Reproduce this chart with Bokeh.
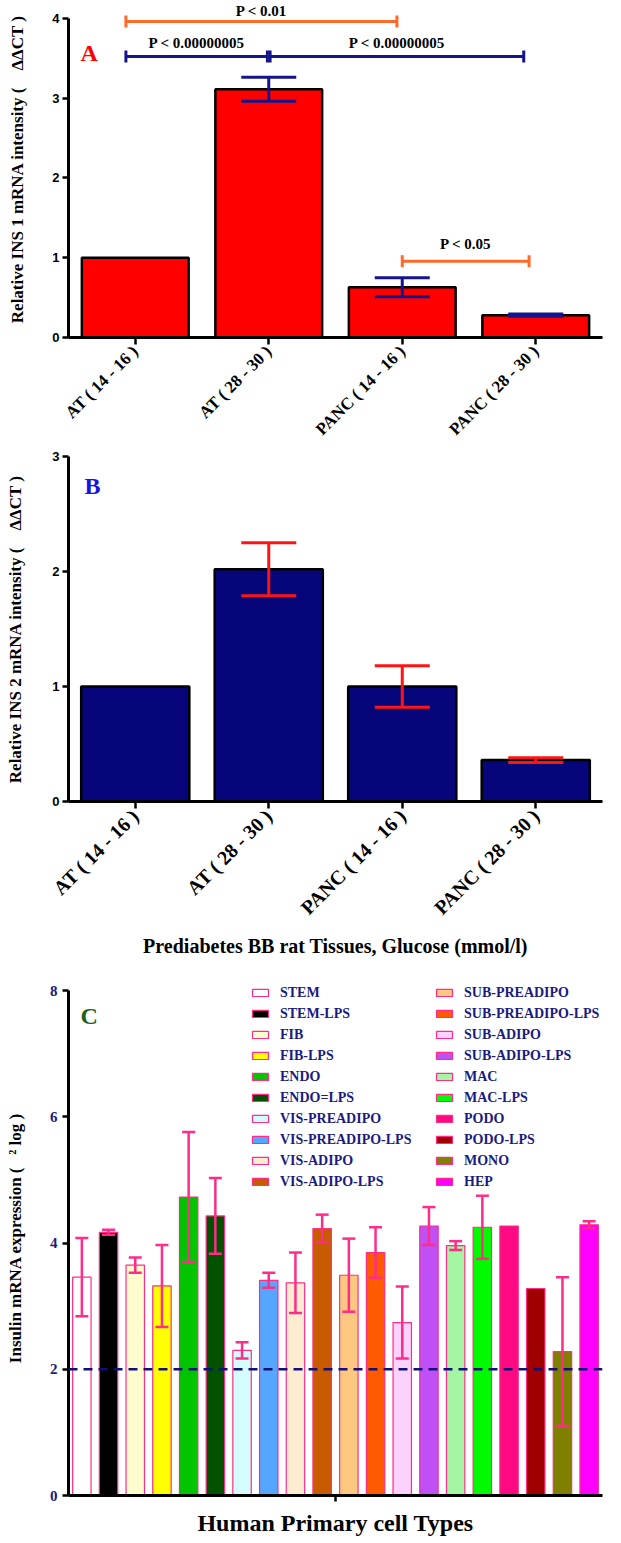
import numpy as np
from bokeh.plotting import figure
from bokeh.models import (ColumnDataSource, Range1d, FixedTicker, Whisker, TeeHead,
                          LabelSet, Label, Span, Legend, LegendItem)
from bokeh.layouts import column
from bokeh.embed import file_html
from bokeh.resources import INLINE

# ---------------- data ----------------
tissues = ["AT ( 14 - 16 )", "AT ( 28 - 30 )", "PANC ( 14 - 16 )", "PANC ( 28 - 30 )"]
ins1_mean = [1.0, 3.11, 0.63, 0.28]
ins1_err = [0.0, 0.15, 0.12, 0.015]
ins2_mean = [1.0, 2.02, 1.0, 0.36]
ins2_err = [0.0, 0.23, 0.18, 0.02]

# significance brackets (panel A), in category index units
br_start = [-0.07, -0.07, 1.01, 2.0]
br_end = [1.96, 0.99, 2.91, 2.95]
br_level = [3.96, 3.52, 3.52, 0.955]
br_label_y = [4.025, 3.625, 3.625, 1.106]
br_text = ["P < 0.01", "P < 0.00000005", "P < 0.00000005", "P < 0.05"]
br_color = ["#FF6A2A", "#14148C", "#14148C", "#FF6A2A"]

cells = ["STEM", "STEM-LPS", "FIB", "FIB-LPS", "ENDO", "ENDO=LPS", "VIS-PREADIPO",
         "VIS-PREADIPO-LPS", "VIS-ADIPO", "VIS-ADIPO-LPS", "SUB-PREADIPO",
         "SUB-PREADIPO-LPS", "SUB-ADIPO", "SUB-ADIPO-LPS", "MAC", "MAC-LPS", "PODO",
         "PODO-LPS", "MONO", "HEP"]
cell_mean = [3.46, 4.17, 3.65, 3.32, 4.73, 4.43, 2.30, 3.41, 3.37, 4.23, 3.49, 3.85,
             2.74, 4.27, 3.96, 4.25, 4.27, 3.28, 2.28, 4.29]
cell_err = [0.62, 0.04, 0.12, 0.65, 1.03, 0.60, 0.13, 0.12, 0.48, 0.22, 0.58, 0.40,
            0.57, 0.30, 0.07, 0.50, 0.0, 0.0, 1.18, 0.055]
cell_fill = ["#FFFFFF", "#000000", "#FFFCD0", "#FFFF00", "#00C400", "#005200", "#D4FCFC",
             "#55A6FF", "#FFEBD0", "#C85A00", "#FFC880", "#FF5A00", "#FCD2FC", "#BE50F5",
             "#A5F5A5", "#00FA00", "#FF0A82", "#A00000", "#808000", "#FF00FF"]
threshold = 2

SERIF = "Liberation Serif"
SANS = "Liberation Sans"
PINK = "#FF2D87"
NAVY = "#14148C"


def base_fig(w, h, xr, yr, left, right, top, bottom):
    p = figure(width=w, height=h, x_range=xr, y_range=yr, output_backend="svg",
               toolbar_location=None, min_border_left=left, min_border_right=right,
               min_border_top=top, min_border_bottom=bottom)
    p.outline_line_color = None
    p.xgrid.visible = False
    p.ygrid.visible = False
    p.background_fill_color = "white"
    p.border_fill_color = "white"
    return p


def style_axes(p, xlabels, xsize, ylab_size, ystand):
    xa, ya = p.xaxis[0], p.yaxis[0]
    for ax in (xa, ya):
        ax.axis_line_width = 3
        ax.axis_line_color = "black"
        ax.major_tick_line_width = 2.5
        ax.major_tick_line_color = "black"
        ax.major_tick_in = 0
        ax.minor_tick_line_color = None
        ax.axis_label_text_font = SERIF
        ax.axis_label_text_font_style = "bold"
        ax.axis_label_text_color = "black"
    idx = list(range(len(xlabels)))
    xa.ticker = FixedTicker(ticks=idx)
    xa.major_label_overrides = {i: t for i, t in zip(idx, xlabels)}
    xa.major_label_orientation = np.pi / 4
    xa.major_label_text_font = SERIF
    xa.major_label_text_font_style = "bold"
    xa.major_label_text_font_size = f"{xsize}px"
    xa.major_label_text_color = "black"
    xa.major_tick_out = 7
    xa.major_label_standoff = 4
    ya.major_tick_out = 6
    ya.major_label_text_font = SANS
    ya.major_label_text_font_style = "bold"
    ya.major_label_text_font_size = "13px"
    ya.major_label_text_color = "black"
    ya.major_label_standoff = 3
    ya.axis_label_text_font_size = f"{ylab_size}px"
    ya.axis_label_standoff = ystand


def whiskers(p, xs, means, errs, color, head, lw):
    keep = [i for i, e in enumerate(errs) if e > 0]
    src = ColumnDataSource(dict(
        x=[xs[i] for i in keep],
        upper=[means[i] + errs[i] for i in keep],
        lower=[means[i] - errs[i] for i in keep]))
    w = Whisker(source=src, base="x", upper="upper", lower="lower", level="annotation",
                line_color=color, line_width=lw,
                upper_head=TeeHead(size=head, line_color=color, line_width=lw),
                lower_head=TeeHead(size=head, line_color=color, line_width=lw))
    p.add_layout(w)


xs = list(range(len(tissues)))
NBSP = "\u00a0"

# ---------------- panel A ----------------
pA = base_fig(621, 448, Range1d(-0.5, 3.5), Range1d(0, 4.223), 66, 10, 0, 107)
pA.vbar(x=xs, top=ins1_mean, width=0.8, fill_color="#FF0000", line_color="black",
        line_width=2.5)
whiskers(pA, xs, ins1_mean, ins1_err, NAVY, 55, 3)
style_axes(pA, tissues, 17, 17, 22)
pA.yaxis[0].ticker = FixedTicker(ticks=[0, 1, 2, 3, 4])
pA.yaxis[0].bounds = (0, 4)
pA.yaxis[0].axis_label = "Relative INS 1 mRNA intensity (" + NBSP * 4 + "ΔΔCT )"

bsrc = ColumnDataSource(dict(
    x0=br_start, x1=br_end, y=br_level, text=br_text, color=br_color,
    xm=[(a + b) / 2 for a, b in zip(br_start, br_end)],
    ylo=[v - 0.075 for v in br_level], yhi=[v + 0.075 for v in br_level],
    yt=br_label_y))
pA.segment(x0="x0", y0="y", x1="x1", y1="y", line_color="color", line_width=3, source=bsrc)
pA.segment(x0="x0", y0="ylo", x1="x0", y1="yhi", line_color="color", line_width=3, source=bsrc)
pA.segment(x0="x1", y0="ylo", x1="x1", y1="yhi", line_color="color", line_width=3, source=bsrc)
pA.add_layout(LabelSet(x="xm", y="yt", text="text", source=bsrc, text_align="center",
                       text_baseline="alphabetic", text_font=SERIF, text_font_style="bold",
                       text_font_size="15px", text_color="black"))
pA.add_layout(Label(x=-0.345, y=3.57, text="A", text_align="center", text_baseline="middle",
                    text_font=SERIF, text_font_style="bold", text_font_size="24px",
                    text_color="#FF0000"))

# ---------------- panel B ----------------
pB = base_fig(621, 512, Range1d(-0.5, 3.5), Range1d(0, 3), 68, 19, 8, 150)
pB.vbar(x=xs, top=ins2_mean, width=0.81, fill_color="#06067A", line_color="black",
        line_width=2.5)
whiskers(pB, xs, ins2_mean, ins2_err, "#FF1414", 55, 3)
style_axes(pB, tissues, 20, 17, 24)
pB.yaxis[0].ticker = FixedTicker(ticks=[0, 1, 2, 3])
pB.yaxis[0].bounds = (0, 3)
pB.yaxis[0].axis_label = "Relative INS 2 mRNA intensity (" + NBSP * 4 + "ΔΔCT )"
pB.xaxis[0].axis_label = "Prediabetes BB rat Tissues, Glucose (mmol/l)"
pB.xaxis[0].axis_label_text_font_size = "20px"
pB.xaxis[0].axis_label_standoff = 6
pB.add_layout(Label(x=-0.32, y=2.74, text="B", text_align="center", text_baseline="middle",
                    text_font=SERIF, text_font_style="bold", text_font_size="24px",
                    text_color="#1414E6"))

# ---------------- panel C ----------------
cx = list(range(len(cells)))
pC = base_fig(621, 583, Range1d(-0.5, len(cells) - 0.5), Range1d(0, 8.16), 68, 6, 20, 48)
srcC = ColumnDataSource(dict(x=cx, mean=cell_mean, fill=cell_fill, name=cells))
rC = pC.vbar(x="x", top="mean", width=0.69, fill_color="fill", line_color=PINK,
             line_width=1.2, source=srcC)
whiskers(pC, cx, cell_mean, cell_err, PINK, 13, 2.5)
pC.add_layout(Span(location=threshold, dimension="width", line_color="#10107A",
                   line_width=2.5, line_dash="9 6"))

xa, ya = pC.xaxis[0], pC.yaxis[0]
for ax in (xa, ya):
    ax.axis_line_width = 3
    ax.major_tick_line_width = 2.5
    ax.major_tick_in = 0
    ax.major_tick_out = 6
    ax.minor_tick_line_color = None
    ax.axis_label_text_font = SERIF
    ax.axis_label_text_font_style = "bold"
    ax.axis_label_text_color = "black"
mid = (len(cells) - 1) / 2
xa.ticker = FixedTicker(ticks=[mid])
xa.major_label_overrides = {mid: ""}
xa.major_label_standoff = 0
xa.axis_label = "Human Primary cell Types"
xa.axis_label_text_font_size = "24px"
xa.axis_label_standoff = 8
ya.ticker = FixedTicker(ticks=[0, 2, 4, 6, 8])
ya.bounds = (0, 8)
ya.major_label_text_font = SERIF
ya.major_label_text_font_style = "bold"
ya.major_label_text_font_size = "15px"
ya.major_label_text_color = "#1A1A80"
ya.major_label_standoff = 5
ya.axis_label = "Insulin mRNA expression (" + NBSP * 3 + "\u00b2" + NBSP + "log )"
ya.axis_label_text_font_size = "17px"
ya.axis_label_standoff = 22

pC.add_layout(Label(x=0.27, y=7.6, text="C", text_align="center", text_baseline="middle",
                    text_font=SERIF, text_font_style="bold", text_font_size="24px",
                    text_color="#1E5E1E"))

half = len(cells) // 2
for start, vx in ((0, 182), (half, 366)):
    items = [LegendItem(label=cells[i], renderers=[rC], index=i)
             for i in range(start, start + half)]
    leg = Legend(items=items, location=(vx, 305), padding=0, margin=0, spacing=4,
                 label_height=17, glyph_height=9, glyph_width=20, label_standoff=10,
                 border_line_color=None, background_fill_alpha=0,
                 label_text_font=SERIF, label_text_font_style="bold",
                 label_text_font_size="14px", label_text_color="#1A1A80")
    pC.add_layout(leg)

layout = column(pA, pB, pC, spacing=0)
open("out.html", "w").write(file_html(layout, INLINE))
